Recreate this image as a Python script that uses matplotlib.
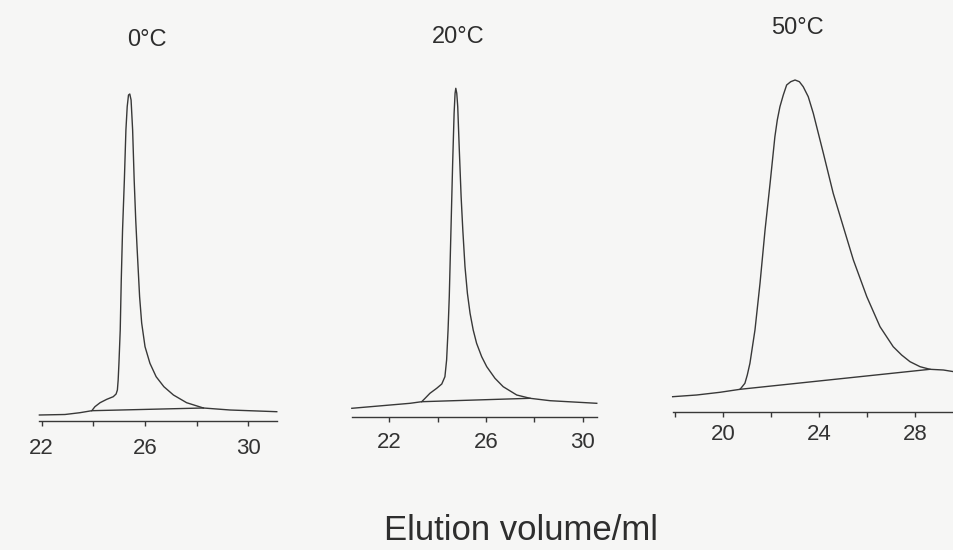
import matplotlib
matplotlib.use("Agg")
import matplotlib.pyplot as plt

plt.rcParams['font.family'] = ['Liberation Sans', 'DejaVu Sans']

W, H = 954, 550
BG = "#f6f6f5"
INK = "#383838"

# --- 0 C run: elution volume (ml) vs detector signal (arb.)
vol_0 = [21.91, 22.90, 23.48, 23.94, 24.06, 24.26, 24.52, 24.77, 24.88, 24.93,
         24.96, 24.99, 25.04, 25.08, 25.13, 25.20, 25.26, 25.31, 25.36, 25.41,
         25.46, 25.52, 25.58, 25.64, 25.69, 25.79, 25.87, 26.00, 26.19, 26.43,
         26.73, 27.10, 27.61, 28.26, 29.29, 31.10]
sig_0 = [6.0, 6.5, 8.3, 10.3, 14.3, 18.3, 21.7, 24.3, 27.0, 31.0,
         41.0, 57.7, 91.0, 141.0, 191.0, 241.0, 291.0, 314.3, 326.0, 327.0,
         321.0, 291.0, 241.0, 201.0, 174.3, 124.3, 98.0, 74.3, 57.7, 44.3,
         34.3, 26.0, 18.3, 13.0, 11.0, 9.3]
base_vol_0 = [23.94, 28.26]
base_sig_0 = [10.3, 13.0]

# --- 20 C run
vol_20 = [20.45, 22.86, 23.34, 23.48, 23.68, 23.96, 24.17, 24.30, 24.37, 24.43,
          24.48, 24.55, 24.62, 24.68, 24.72, 24.75, 24.79, 24.83, 24.89, 24.97,
          25.04, 25.13, 25.23, 25.34, 25.47, 25.61, 25.82, 26.03, 26.37, 26.71,
          27.27, 27.82, 28.65, 30.58]
sig_20 = [8.2, 13.2, 14.8, 18.2, 23.2, 28.2, 32.5, 39.8, 56.5, 86.5,
          119.8, 186.5, 253.2, 303.2, 323.2, 328.2, 323.2, 309.8, 269.8, 219.8,
          186.5, 149.8, 123.2, 103.2, 86.5, 73.2, 59.8, 49.8, 38.2, 29.8,
          21.5, 18.2, 15.8, 13.2]
base_vol_20 = [23.34, 27.82]
base_sig_20 = [14.8, 18.2]

# --- 50 C run
vol_50 = [17.89, 18.89, 19.86, 20.70, 20.90, 21.00, 21.11, 21.32, 21.53, 21.74,
          21.95, 22.15, 22.25, 22.36, 22.50, 22.64, 22.81, 22.99, 23.17, 23.33,
          23.54, 23.75, 24.17, 24.58, 25.00, 25.42, 25.98, 26.53, 27.08, 27.43,
          27.78, 28.20, 28.61, 29.17, 29.61]
sig_50 = [15.3, 17.0, 19.7, 22.7, 28.7, 37.0, 48.7, 82.0, 128.7, 182.0,
          228.7, 275.3, 292.0, 305.3, 317.0, 327.0, 330.3, 332.0, 330.3, 325.3,
          315.3, 298.7, 258.7, 218.7, 185.3, 152.0, 115.3, 85.3, 65.3, 57.0,
          50.3, 45.3, 42.7, 42.0, 40.3]
base_vol_50 = [20.70, 28.61]
base_sig_50 = [22.7, 42.7]

titles = ["0°C", "20°C", "50°C"]
ticks_0 = [22, 24, 26, 28, 30]
ticks_20 = [22, 24, 26, 28, 30]
ticks_50 = [18, 20, 22, 24, 26, 28]
labelled_0 = [22, 26, 30]
labelled_20 = [22, 26, 30]
labelled_50 = [20, 24, 28]

fig = plt.figure(figsize=(W / 100, H / 100), dpi=100, facecolor=BG)


def add_panel(left, right, axis_y, xlim, pad):
    # pixel box -> figure fraction; y range 0..340 signal units = 340 px
    ax = fig.add_axes([left / W, (H - axis_y) / H, (right - left) / W, 340 / H])
    ax.set_xlim(*xlim)
    ax.set_ylim(0, 340)
    ax.patch.set_visible(False)
    for s in ("top", "left", "right"):
        ax.spines[s].set_visible(False)
    ax.spines["bottom"].set_color(INK)
    ax.spines["bottom"].set_linewidth(1.0)
    ax.set_yticks([])
    ax.tick_params(axis="x", direction="out", length=3.5, width=1.0, color=INK,
                   labelsize=16, labelcolor="#333333", pad=pad)
    return ax


panels = [
    (add_panel(39.3, 277.0, 421.0, (21.907, 31.109), 8.5),
     vol_0, sig_0, base_vol_0, base_sig_0, ticks_0, labelled_0),
    (add_panel(351.7, 596.7, 416.5, (20.445, 30.577), 8.0),
     vol_20, sig_20, base_vol_20, base_sig_20, ticks_20, labelled_20),
    (add_panel(673.3, 954.0, 412.0, (17.917, 29.613), 5.0),
     vol_50, sig_50, base_vol_50, base_sig_50, ticks_50, labelled_50),
]

for ax, v, s, bv, bs, tks, lab in panels:
    ax.plot(v, s, color=INK, lw=1.0, clip_on=False, solid_joinstyle="round")
    ax.plot(bv, bs, color=INK, lw=1.0, clip_on=False)
    ax.set_xticks(tks)
    ax.set_xticklabels([str(t) if t in lab else "" for t in tks])

# panel titles
for (x, y), t in zip([(147, 40), (458, 37), (797, 28)], titles):
    fig.text(x / W, 1 - y / H, t, ha="center", va="center", fontsize=17, color="#2e2e2e")

fig.text(521 / W, 1 - 530 / H, "Elution volume/ml", ha="center", va="center",
         fontsize=25, color="#2e2e2e")

fig.savefig("out.png", dpi=100, facecolor=BG)
